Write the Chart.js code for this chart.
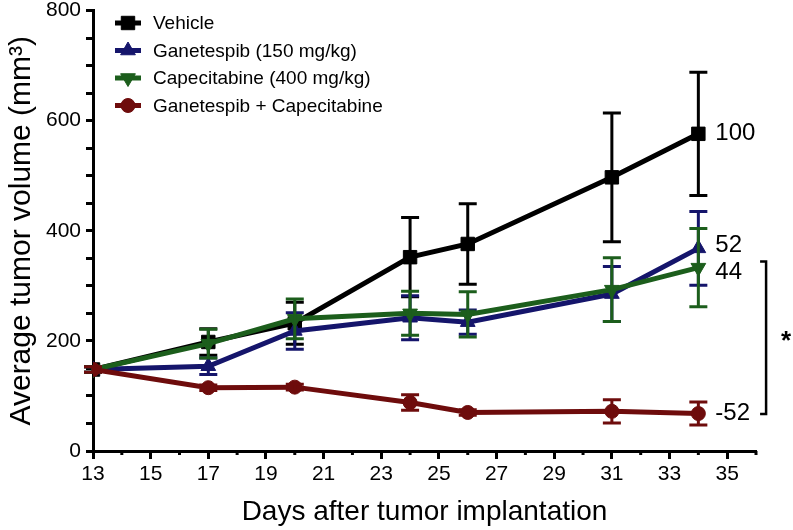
<!DOCTYPE html>
<html>
<head>
<meta charset="utf-8">
<script src="https://cdn.jsdelivr.net/npm/chart.js@4/dist/chart.umd.min.js"></script>
<style>
  html, body { margin: 0; padding: 0; background: #fff; }
  #wrap { width: 793px; height: 530px; position: relative; }
</style>
</head>
<body>
<div id="wrap"><canvas id="c" width="793" height="530"></canvas></div>
<script>
// ---- data ----
const days = [13, 17, 20, 24, 26, 31, 34];
const seriesNames = ['Vehicle', 'Ganetespib (150 mg/kg)', 'Capecitabine (400 mg/kg)', 'Ganetespib + Capecitabine'];
const vehicle = [148, 198, 232, 352, 376, 497, 576];
const vehicleErr = [5, 24, 38, 72, 73, 117, 112];
const ganetespib = [148, 154, 218, 242, 234, 285, 368];
const ganetespibErr = [5, 15, 33, 40, 22, 50, 67];
const capecitabine = [148, 195, 240, 250, 248, 293, 333];
const capecitabineErr = [5, 26, 36, 40, 41, 58, 71];
const combo = [148, 115, 116, 88, 70, 72, 68];
const comboErr = [5, 5, 5, 14, 5, 21, 21];
const endLabels = ['100', '52', '44', '-52'];
const yTicks = [0, 200, 400, 600, 800];
const xTickLabels = [13, 15, 17, 19, 21, 23, 25, 27, 29, 31, 33, 35];
const xTitle = 'Days after tumor implantation';
const yTitle = 'Average tumor volume (mm\u00B3)';
const sigMark = '*';
const sigRange = [344, 67];

const colors = ['#000000', '#15156b', '#1c5e1c', '#6e0c0c'];
const FONT = "'Liberation Sans', Arial, sans-serif";

function pts(vals) { return days.map((d, i) => ({ x: d, y: vals[i] })); }

const datasets = [
  { label: seriesNames[0], data: pts(vehicle), errors: vehicleErr, borderColor: colors[0], backgroundColor: colors[0],
    pointStyle: 'rect', pointRadius: 9.5, pointRotation: 0, order: 4, endLabel: endLabels[0], endOffset: 0 },
  { label: seriesNames[1], data: pts(ganetespib), errors: ganetespibErr, borderColor: colors[1], backgroundColor: colors[1],
    pointStyle: 'triangle', pointRadius: 8.5, pointRotation: 0, order: 3, endLabel: endLabels[1], endOffset: -3 },
  { label: seriesNames[2], data: pts(capecitabine), errors: capecitabineErr, borderColor: colors[2], backgroundColor: colors[2],
    pointStyle: 'triangle', pointRadius: 8.5, pointRotation: 180, order: 2, endLabel: endLabels[2], endOffset: 5 },
  { label: seriesNames[3], data: pts(combo), errors: comboErr, borderColor: colors[3], backgroundColor: colors[3],
    pointStyle: 'circle', pointRadius: 7, pointRotation: 0, order: 1, endLabel: endLabels[3], endOffset: 0 }
];
datasets.forEach(d => { d.borderWidth = 5; d.pointBorderWidth = 1; d.tension = 0; d.pointHoverRadius = d.pointRadius; });

const errorBars = {
  id: 'errorBars',
  afterDatasetDraw(chart, args) {
    const ds = chart.data.datasets[args.index];
    if (!ds.errors) return;
    const { ctx, scales: { x, y } } = chart;
    ctx.save();
    ctx.strokeStyle = ds.borderColor;
    ctx.lineWidth = 3;
    ds.data.forEach((p, i) => {
      const e = ds.errors[i];
      const px = x.getPixelForValue(p.x);
      const yt = y.getPixelForValue(p.y + e);
      const yb = y.getPixelForValue(p.y - e);
      ctx.beginPath();
      ctx.moveTo(px, yt); ctx.lineTo(px, yb);
      ctx.moveTo(px - 9, yt); ctx.lineTo(px + 9, yt);
      ctx.moveTo(px - 9, yb); ctx.lineTo(px + 9, yb);
      ctx.stroke();
    });
    ctx.restore();
  }
};

const extras = {
  id: 'extras',
  afterDraw(chart) {
    const { ctx, scales: { x, y } } = chart;
    ctx.save();
    // minor x ticks
    ctx.strokeStyle = '#000';
    ctx.lineWidth = 3;
    for (let d = 14; d <= 36; d += 2) {
      const px = x.getPixelForValue(d);
      ctx.beginPath(); ctx.moveTo(px, y.bottom); ctx.lineTo(px, y.bottom + 4); ctx.stroke();
    }
    // end labels
    ctx.fillStyle = '#000';
    ctx.font = '24px ' + FONT;
    ctx.textBaseline = 'middle';
    ctx.textAlign = 'left';
    chart.data.datasets.forEach(ds => {
      const last = ds.data[ds.data.length - 1];
      ctx.fillText(ds.endLabel, x.getPixelForValue(last.x) + 17, y.getPixelForValue(last.y) + ds.endOffset);
    });
    // significance bracket
    const bx = x.getPixelForValue(36.35);
    const y1 = y.getPixelForValue(sigRange[0]);
    const y2 = y.getPixelForValue(sigRange[1]);
    ctx.lineWidth = 2.5;
    ctx.beginPath();
    ctx.moveTo(bx - 6, y1); ctx.lineTo(bx, y1); ctx.lineTo(bx, y2); ctx.lineTo(bx - 6, y2);
    ctx.stroke();
    ctx.font = 'bold 26px ' + FONT;
    ctx.textAlign = 'center';
    ctx.fillText(sigMark, bx + 20, (y1 + y2) / 2 + 4);
    // legend
    ctx.font = '19px ' + FONT;
    ctx.textAlign = 'left';
    chart.data.datasets.forEach((ds, i) => {
      const cy = 23 + i * 27.5;
      ctx.strokeStyle = ds.borderColor;
      ctx.fillStyle = ds.backgroundColor;
      ctx.lineWidth = 5;
      ctx.beginPath(); ctx.moveTo(115, cy); ctx.lineTo(141, cy); ctx.stroke();
      ctx.lineWidth = 1;
      Chart.helpers.drawPoint(ctx, { pointStyle: ds.pointStyle, radius: ds.pointRadius, rotation: ds.pointRotation, borderWidth: 1 }, 128, cy);
      ctx.fillStyle = '#000';
      ctx.fillText(ds.label, 153, cy + 1);
    });
    ctx.restore();
  }
};

new Chart(document.getElementById('c'), {
  type: 'line',
  data: { datasets },
  options: {
    responsive: false,
    animation: false,
    events: [],
    layout: { padding: { top: 9, right: 37, bottom: 0, left: 0 } },
    plugins: { legend: { display: false }, tooltip: { enabled: false } },
    scales: {
      x: {
        type: 'linear', min: 13, max: 36,
        afterFit(s) { s.height = 79; },
        afterBuildTicks(s) { s.ticks = xTickLabels.map(v => ({ value: v })); },
        border: { color: '#000', width: 3 },
        grid: { display: true, drawOnChartArea: false, drawTicks: true, tickLength: 8, tickWidth: 3, tickColor: '#000' },
        ticks: { color: '#000', font: { family: FONT, size: 21 }, padding: 3, maxRotation: 0, autoSkip: false },
        title: { display: true, text: xTitle, color: '#000', font: { family: FONT, size: 28 }, padding: { top: 0, bottom: 1 } }
      },
      y: {
        type: 'linear', min: 0, max: 800,
        afterFit(s) { s.width = 93; s.paddingTop = 0; },
        afterBuildTicks(s) {
          const t = [];
          for (let v = 0; v <= 800; v += 50) t.push({ value: v });
          s.ticks = t;
        },
        border: { color: '#000', width: 3 },
        grid: { display: true, drawOnChartArea: false, drawTicks: true, tickLength: 7, tickWidth: 3, tickColor: '#000' },
        ticks: { color: '#000', font: { family: FONT, size: 21, lineHeight: 0.5 }, padding: 5, autoSkip: false,
          callback: v => (yTicks.includes(v) ? String(v) : '') },
        title: { display: true, text: yTitle, color: '#000', font: { family: FONT, size: 30 }, padding: { top: 4, bottom: 0 } }
      }
    }
  },
  plugins: [errorBars, extras]
});
</script>
</body>
</html>
